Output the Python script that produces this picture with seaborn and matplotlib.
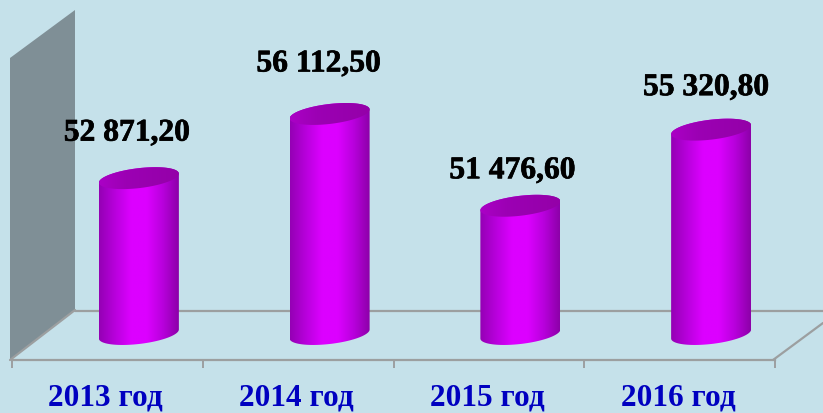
import numpy as np
import pandas as pd
import matplotlib
matplotlib.use('Agg')
import matplotlib.pyplot as plt
import matplotlib.patheffects as pe
from matplotlib.colors import LinearSegmentedColormap
from matplotlib.patches import Polygon, PathPatch
from matplotlib.path import Path
from matplotlib.transforms import ScaledTranslation
import seaborn as sns

# chart data
years = ['2013 год', '2014 год', '2015 год', '2016 год']
values = [52871.20, 56112.50, 51476.60, 55320.80]
value_labels = ['52 871,20', '56 112,50', '51 476,60', '55 320,80']

BG = '#c5e1ea'
WALL = '#7f8f96'
LINE = '#9c9fa0'
BASE = 45000      # value where the cylinders stand
YMIN, YMAX = 43687, 61868
W, H = 823, 413
AX_L, AX_R, AX_B = 12, 775, 360   # pixels of the front edge of the floor
PX_X = (AX_R - AX_L) / 4          # pixels per category
PX_Y = AX_B / (YMAX - YMIN)       # pixels per value unit

sns.set_theme(style='white')
plt.rcParams['font.family'] = ['Liberation Serif', 'DejaVu Serif']

fig = plt.figure(figsize=(W / 100, H / 100), dpi=100, facecolor=BG)
ax = fig.add_axes([AX_L / W, 1 - AX_B / H, (AX_R - AX_L) / W, AX_B / H])
ax.set_facecolor('none')

df = pd.DataFrame({'year': years, 'value': values})
sns.barplot(data=df, x='year', y='value', color='#dd00ff', width=80 / PX_X, ax=ax)
bars = list(ax.patches)
ax.set_xlim(-0.5, 3.5)
ax.set_ylim(YMIN, YMAX)
ax.set_xlabel('')
ax.set_ylabel('')
sns.despine(ax=ax, left=True, top=True, right=True)
ax.spines['bottom'].set_color(LINE)
ax.spines['bottom'].set_linewidth(1.6)
ax.set_yticks([])


def fxy(px, py):
    return (px / W, 1 - py / H)


# grey wall and the floor lines, behind the bars
wall = Polygon([fxy(10, 58), fxy(75, 10), fxy(75, 310), fxy(10, 360)], closed=True,
               facecolor=WALL, edgecolor='none', transform=fig.transFigure, clip_on=False, zorder=0.5)
ax.add_patch(wall)
for p0, p1 in [((75, 311), (823, 311)), ((10, 360), (75, 310)), ((773, 360), (823, 323))]:
    ax.plot(*zip(fxy(*p0), fxy(*p1)), color=LINE, lw=1.6, transform=fig.transFigure,
            clip_on=False, zorder=0.6)

body_cmap = LinearSegmentedColormap.from_list('body', ['#9400b4', '#b800dc', '#dc00ff', '#dc00ff', '#b800dc', '#8c00a8'])
top_cmap = LinearSegmentedColormap.from_list('top', ['#ab00c6', '#9c00b4', '#9800ae', '#9400a8'])
gradient = np.linspace(0, 1, 256).reshape(1, -1)

SHIFT = 31.5 / PX_X            # the cylinders stand deeper than the tick labels
A = 40 / PX_X                  # half width of a cylinder
B = 10.0 * (1 / PX_Y)          # ellipse half height in value units
K = 4.5 * (1 / PX_Y)           # tilt of the ellipse
t = np.linspace(0, 2 * np.pi, 121)
ell_x = A * np.cos(t)
ell_y = B * np.sin(t) + K * np.cos(t)

label_dx = [-12, -11, -8, -5]     # pixels from the cylinder centre
label_dy = [45, 50, 35, 42]       # pixels above the cylinder top
heavier = [pe.withStroke(linewidth=0.5, foreground='black')]

for i, bar in enumerate(bars):
    v = values[i]
    bar.set_visible(False)
    cx = bar.get_x() + bar.get_width() / 2 + SHIFT
    # outline of the cylinder body: over the top, then round the bottom
    half = t <= np.pi
    lower = t >= np.pi
    xs = np.concatenate([cx + ell_x[half], cx + ell_x[lower]])
    ys = np.concatenate([v + ell_y[half], BASE + ell_y[lower]])
    clip = PathPatch(Path(np.column_stack([xs, ys])), transform=ax.transData, facecolor='none', edgecolor='none')
    ax.add_patch(clip)
    im = ax.imshow(gradient, extent=[cx - A, cx + A, BASE - 2 * B, v + 2 * B], cmap=body_cmap,
                   aspect='auto', zorder=2, interpolation='bilinear')
    im.set_clip_path(clip)
    cap = PathPatch(Path(np.column_stack([cx + ell_x, v + ell_y])), transform=ax.transData,
                    facecolor='none', edgecolor='none')
    ax.add_patch(cap)
    im2 = ax.imshow(gradient, extent=[cx - A, cx + A, v - 2 * B, v + 2 * B], cmap=top_cmap,
                    aspect='auto', zorder=3, interpolation='bilinear')
    im2.set_clip_path(cap)
    ax.annotate(value_labels[i], xy=(cx, v), xytext=(label_dx[i] * 0.72, label_dy[i] * 0.72),
                textcoords='offset points', ha='center', va='center', fontsize=22.7,
                fontweight='bold', color='black', zorder=5, annotation_clip=False,
                path_effects=heavier)

ax.set_xlim(-0.5, 3.5)
ax.set_ylim(YMIN, YMAX)

# ticks sit between the categories, labels in the middle
ax.set_xticks(np.arange(len(years)))
ax.set_xticklabels(years, fontsize=22.5, fontweight='bold', color='#0000c0')
ax.set_xticks(np.arange(len(years) + 1) - 0.5, minor=True)
ax.tick_params(axis='x', which='major', length=0, pad=17.2)
ax.tick_params(axis='x', which='minor', bottom=True, length=6, width=1.4, color=LINE)
shift_left = ScaledTranslation(-1.5 / 100, 0, fig.dpi_scale_trans)
for lab in ax.get_xticklabels():
    lab.set_transform(lab.get_transform() + shift_left)

fig.savefig('out.png', dpi=100, facecolor=BG)
